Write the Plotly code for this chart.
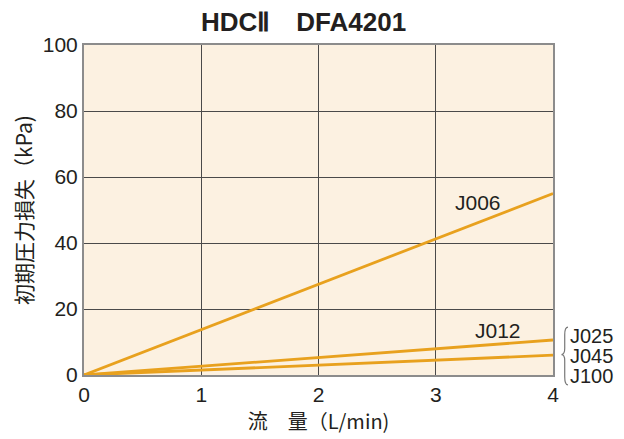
import plotly.graph_objects as go

flow = [0, 1, 2, 3, 4]
j006 = [0, 13.8, 27.5, 41.2, 55.0]
j012 = [0, 2.6, 5.3, 8.0, 10.6]
j025_045_100 = [0, 1.5, 3.0, 4.5, 6.0]

x_ticks = [0, 1, 2, 3, 4]
y_ticks = [0, 20, 40, 60, 80, 100]

line_color = "#e8a11e"
font_main = "Liberation Sans, Arial, sans-serif"
font_cjk = "Noto Sans CJK JP, sans-serif"
txt = "#231f20"

fig = go.Figure()
for name, vals in [("J006", j006), ("J012", j012), ("J025/J045/J100", j025_045_100)]:
    fig.add_trace(go.Scatter(x=flow, y=vals, mode="lines", name=name,
                             line=dict(color=line_color, width=2.8),
                             showlegend=False, cliponaxis=False))

fig.add_annotation(x=3.36, y=52.4, text="J006", showarrow=False,
                   font=dict(family=font_main, size=21, color=txt))
fig.add_annotation(x=3.53, y=13.6, text="J012", showarrow=False,
                   font=dict(family=font_main, size=21, color=txt))
for lbl, yp in [("J025", 0.117), ("J045", 0.057), ("J100", -0.004)]:
    fig.add_annotation(xref="paper", yref="paper", x=1.032, y=yp, text=lbl,
                       showarrow=False, xanchor="left", yanchor="middle",
                       font=dict(family=font_main, size=20, color=txt))

fig.add_shape(type="path", xref="paper", yref="paper",
              path="M 1.032,0.145 Q 1.025,0.145 1.025,0.122 L 1.025,0.08 "
                   "Q 1.025,0.062 1.018,0.062 Q 1.025,0.062 1.025,0.044 "
                   "L 1.025,-0.005 Q 1.025,-0.03 1.032,-0.03",
              line=dict(color="#777", width=1.2))

fig.update_layout(
    width=624, height=439,
    margin=dict(l=76, r=79, t=37, b=72),
    paper_bgcolor="white",
    plot_bgcolor="#fcf1e1",
    title=dict(text="<b>HDCⅡ　DFA4201</b>",
               x=0.4736, xanchor="center", y=0.969, yanchor="middle",
               font=dict(family=font_main, size=26, color=txt)),
)
fig.update_xaxes(range=[0, 4], tickvals=x_ticks, showgrid=True, gridcolor="#4a4a4a",
                 gridwidth=1, showline=True, mirror=True, linecolor="#8c8c8c",
                 linewidth=2, zeroline=False, ticks="", ticklen=0,
                 tickfont=dict(family=font_main, size=21, color=txt),
                 title=dict(text="流　量（L/min)", standoff=10,
                            font=dict(family=font_cjk, size=20, color=txt)))
fig.update_yaxes(range=[0, 100], tickvals=y_ticks, showgrid=True, gridcolor="#4a4a4a",
                 gridwidth=1, showline=True, mirror=True, linecolor="#8c8c8c",
                 linewidth=2, zeroline=False, ticks="", ticklen=0,
                 tickfont=dict(family=font_main, size=21, color=txt),
                 title=dict(text="初期圧力損失（kPa)", standoff=8,
                            font=dict(family=font_cjk, size=21, color=txt)))

fig.write_html("out.html")
